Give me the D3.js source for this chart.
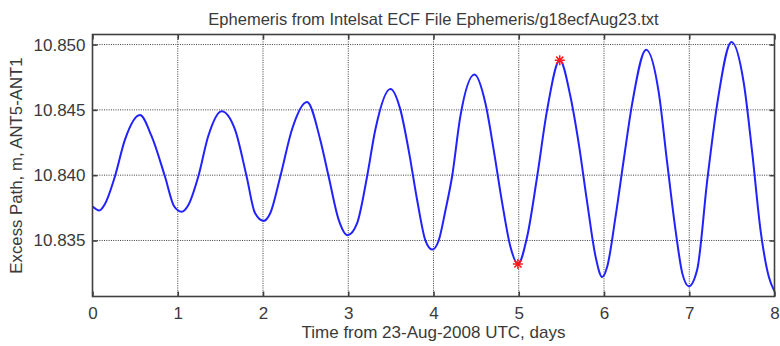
<!DOCTYPE html>
<html>
<head>
<meta charset="utf-8">
<script src="https://cdn.jsdelivr.net/npm/d3@7"></script>
<style>
  html, body { margin: 0; padding: 0; background: #fff; }
  svg { display: block; }
  text { font-family: "Liberation Sans", Arial, Helvetica, sans-serif; fill: #3a3a3a; }
</style>
</head>
<body>
<svg id="chart" width="780" height="346"></svg>
<script>
// Excess path length ANT5-ANT1 over eight days of ephemeris
const days = [
  0.000, 0.079, 0.146, 0.263, 0.380, 0.556, 0.692, 0.850, 0.959,
  1.045, 1.123, 1.241, 1.358, 1.514, 1.671, 1.808, 1.906,
  2.007, 2.086, 2.203, 2.340, 2.516, 2.672, 2.770, 2.887,
  2.993, 3.103, 3.221, 3.318, 3.494, 3.612, 3.709, 3.808, 3.905,
  3.984, 4.061, 4.140, 4.218, 4.315, 4.480, 4.609, 4.707, 4.805, 4.903,
  4.990, 5.099, 5.216, 5.333, 5.481, 5.607, 5.704, 5.803, 5.900,
  5.979, 6.038, 6.135, 6.232, 6.331, 6.495, 6.643, 6.742, 6.839, 6.918,
  6.995, 7.094, 7.211, 7.329, 7.496, 7.641, 7.739, 7.836, 7.934, 8.000
];
const excessPath = [
  10.8376, 10.8373, 10.8378, 10.8399, 10.8427, 10.8446, 10.8430, 10.8399, 10.8376,
  10.8372, 10.8377, 10.8399, 10.8430, 10.8449, 10.8435, 10.8399, 10.8371,
  10.8365, 10.8371, 10.8399, 10.8435, 10.8456, 10.8427, 10.8399, 10.8366,
  10.8354, 10.8363, 10.8399, 10.8435, 10.8466, 10.8450, 10.8419, 10.8381, 10.8350,
  10.8343, 10.8350, 10.8373, 10.8399, 10.8445, 10.8477, 10.8455, 10.8419, 10.8379, 10.8345,
  10.8332, 10.8353, 10.8399, 10.8450, 10.8488, 10.8460, 10.8424, 10.8379, 10.8338,
  10.8322, 10.8330, 10.8368, 10.8412, 10.8455, 10.8496, 10.8463, 10.8409, 10.8358, 10.8325,
  10.8315, 10.8328, 10.8396, 10.8455, 10.8502, 10.8470, 10.8417, 10.8358, 10.8322, 10.8311
];

// Highlighted extremes
const markerDays = [4.990, 5.481];
const markerValues = [10.8332, 10.8488];

// Axis ticks
const xTicks = [0, 1, 2, 3, 4, 5, 6, 7, 8];
const yTicks = [10.835, 10.840, 10.845, 10.850];
const xDomain = [0, 8];
const yDomain = [10.83071, 10.85077];

const titleText = "Ephemeris from Intelsat ECF File Ephemeris/g18ecfAug23.txt";
const xLabelText = "Time from 23-Aug-2008 UTC, days";
const yLabelText = "Excess Path, m, ANT5-ANT1";

const plot = { left: 92.5, top: 34.5, right: 774.5, bottom: 296.5 };
const svg = d3.select("#chart");

const x = d3.scaleLinear().domain(xDomain).range([plot.left, plot.right]);
const y = d3.scaleLinear().domain(yDomain).range([plot.bottom, plot.top]);

const frameColor = "#404040";
const gridColor = "#3c3c3c";

// dotted grid
const grid = svg.append("g");
grid.selectAll("line.gx").data(xTicks.filter(t => t > xDomain[0] && t < xDomain[1]))
  .join("line")
  .attr("x1", d => x(d)).attr("x2", d => x(d))
  .attr("y1", plot.top).attr("y2", plot.bottom)
  .attr("stroke", gridColor).attr("stroke-width", 1)
  .attr("stroke-dasharray", "1,1.3");
grid.selectAll("line.gy").data(yTicks)
  .join("line")
  .attr("x1", plot.left).attr("x2", plot.right)
  .attr("y1", d => y(d)).attr("y2", d => y(d))
  .attr("stroke", gridColor).attr("stroke-width", 1)
  .attr("stroke-dasharray", "1,1.3");

// data line
const pts = days.map((d, i) => [d, excessPath[i]]);
const line = d3.line()
  .x(d => x(d[0]))
  .y(d => y(d[1]))
  .curve(d3.curveMonotoneX);

svg.append("path")
  .datum(pts)
  .attr("d", line)
  .attr("fill", "none")
  .attr("stroke", "#2222ff")
  .attr("stroke-width", 2)
  .attr("stroke-linejoin", "round");

// red star markers (plus + cross)
const mr = 5;
const starPath = `M${-mr},0L${mr},0M0,${-mr}L0,${mr}` +
  `M${-mr * 0.72},${-mr * 0.72}L${mr * 0.72},${mr * 0.72}` +
  `M${-mr * 0.72},${mr * 0.72}L${mr * 0.72},${-mr * 0.72}`;
svg.append("g").selectAll("path")
  .data(markerDays.map((d, i) => [d, markerValues[i]]))
  .join("path")
  .attr("transform", d => `translate(${x(d[0])},${y(d[1])})`)
  .attr("d", starPath)
  .attr("fill", "none")
  .attr("stroke", "#ff1a1a")
  .attr("stroke-width", 1.5);

// axes with inward ticks on all four sides
const tickLen = 5;
const axisBottom = d3.axisBottom(x).tickValues(xTicks).tickFormat(d3.format("d"))
  .tickSizeInner(-tickLen).tickSizeOuter(0).tickPadding(10);
const axisTop = d3.axisTop(x).tickValues(xTicks).tickFormat("")
  .tickSizeInner(-tickLen).tickSizeOuter(0);
const axisLeft = d3.axisLeft(y).tickValues(yTicks).tickFormat(d3.format(".3f"))
  .tickSizeInner(-tickLen).tickSizeOuter(0).tickPadding(7);
const axisRight = d3.axisRight(y).tickValues(yTicks).tickFormat("")
  .tickSizeInner(-tickLen).tickSizeOuter(0);

function styleAxis(g) {
  g.select(".domain").remove();
  g.selectAll(".tick line").attr("stroke", frameColor).attr("stroke-width", 1.6);
  g.selectAll(".tick text")
    .attr("fill", "#3a3a3a")
    .style("font-size", "17px")
    .style("font-family", "'Liberation Sans', Arial, Helvetica, sans-serif");
}

svg.append("g").attr("transform", `translate(0,${plot.bottom})`).call(axisBottom).call(styleAxis);
svg.append("g").attr("transform", `translate(0,${plot.top})`).call(axisTop).call(styleAxis);
svg.append("g").attr("transform", `translate(${plot.left},0)`).call(axisLeft).call(styleAxis);
svg.append("g").attr("transform", `translate(${plot.right},0)`).call(axisRight).call(styleAxis);

// frame
svg.append("rect")
  .attr("x", plot.left).attr("y", plot.top)
  .attr("width", plot.right - plot.left).attr("height", plot.bottom - plot.top)
  .attr("fill", "none").attr("stroke", frameColor).attr("stroke-width", 1.6);

// title and axis labels
const cx = (plot.left + plot.right) / 2;
svg.append("text")
  .attr("x", cx).attr("y", 25)
  .attr("text-anchor", "middle")
  .style("font-size", "16.5px")
  .text(titleText);

svg.append("text")
  .attr("x", cx).attr("y", 338)
  .attr("text-anchor", "middle")
  .style("font-size", "17px")
  .text(xLabelText);

svg.append("text")
  .attr("transform", `translate(22,${(plot.top + plot.bottom) / 2}) rotate(-90)`)
  .attr("text-anchor", "middle")
  .style("font-size", "16.8px")
  .text(yLabelText);
</script>
</body>
</html>
